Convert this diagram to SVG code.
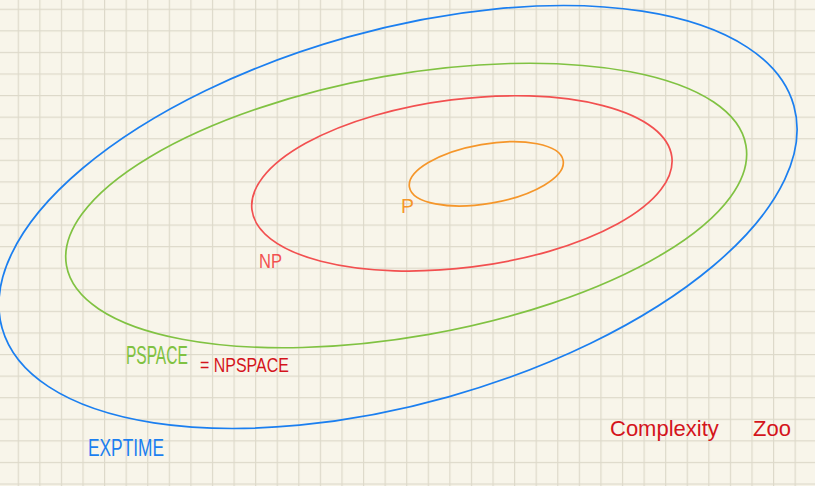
<svg xmlns="http://www.w3.org/2000/svg" width="815" height="486" viewBox="0 0 815 486">
<defs>
<pattern id="grid" patternUnits="userSpaceOnUse" x="17.7" y="8.7" width="21.58" height="21.58">
<rect x="0" y="0" width="1.2" height="21.58" fill="#ddd9ca"/>
<rect x="0" y="0" width="21.58" height="1.2" fill="#ddd9ca"/>
</pattern>
<style>
.ring{fill:none;stroke-width:1.7}
.lbl{font-family:"Liberation Sans",Arial,sans-serif}
</style>
</defs>
<rect width="815" height="486" fill="#f8f5ea"/>
<rect width="815" height="486" fill="url(#grid)"/>
<g id="exptime">
<ellipse class="ring" cx="398" cy="217" rx="411.2" ry="186.8" transform="rotate(-15.7 398 217)" stroke="#1b7ff0"/>
<text class="lbl" x="88" y="456" font-size="24" textLength="76" lengthAdjust="spacingAndGlyphs" fill="#1b7ff0">EXPTIME</text>
</g>
<g id="pspace">
<ellipse class="ring" cx="406.2" cy="205.5" rx="345" ry="130.9" transform="rotate(-10.05 406.2 205.5)" stroke="#80c242"/>
<text class="lbl" transform="translate(126 364) scale(0.705 1.2)" font-size="22" fill="#80c242">PSPACE</text>
<text class="lbl" transform="translate(200 372) scale(0.76 1)" font-size="21" fill="#d4141c">= NPSPACE</text>
</g>
<g id="np">
<ellipse class="ring" cx="461.9" cy="183.4" rx="211.6" ry="84.2" transform="rotate(-7.2 461.9 183.4)" stroke="#f25050"/>
<text class="lbl" x="259" y="268" font-size="20" textLength="23" lengthAdjust="spacingAndGlyphs" fill="#f25050">NP</text>
</g>
<g id="p">
<ellipse class="ring" cx="486.3" cy="173.85" rx="78" ry="29.7" transform="rotate(-9.8 486.3 173.85)" stroke="#f5962a"/>
<text class="lbl" x="401" y="213" font-size="20" textLength="13" lengthAdjust="spacingAndGlyphs" fill="#f5962a">P</text>
</g>
<g id="title">
<text class="lbl" x="610" y="436" font-size="22" fill="#d4141c">Complexity <tspan x="753">Zoo</tspan></text>
</g>
</svg>
